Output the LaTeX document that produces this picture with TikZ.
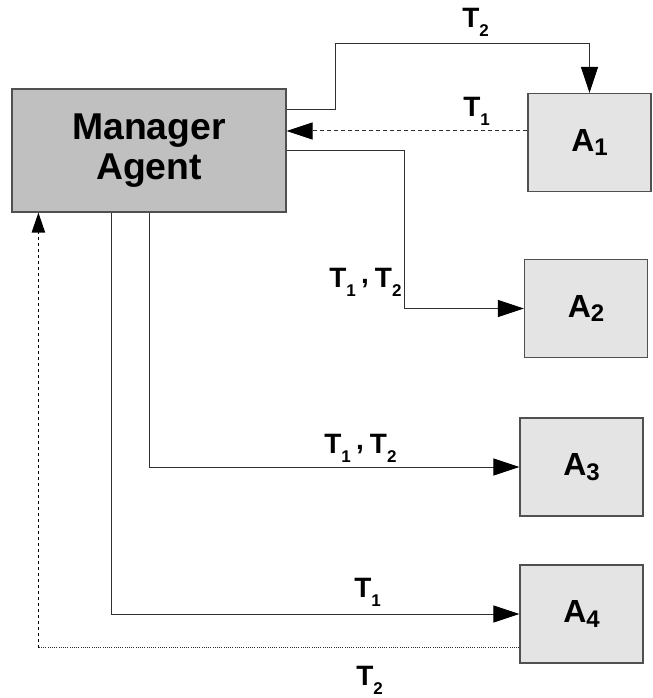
\documentclass[tikz,border=0pt]{standalone}
\usepackage{fontspec}
\setmainfont{Liberation Sans}
\usetikzlibrary{arrows.meta,calc}
\definecolor{mgrfill}{HTML}{C0C0C0}
\definecolor{agfill}{HTML}{E4E4E4}
\definecolor{boxline}{HTML}{505050}
\definecolor{linecol}{HTML}{303030}
\newcommand\tsubx[1]{T\raisebox{-6.75pt}{\fontsize{12.75pt}{13pt}\selectfont #1}}
\newcommand\asubx[1]{A\raisebox{-3.5pt}{\fontsize{18pt}{18pt}\selectfont #1}}
\newcommand\tpair{\tsubx{1}\kern4pt\raisebox{2.5pt}{,}\kern4.5pt\tsubx{2}}
\begin{document}
\begin{tikzpicture}[x=0.75pt,y=-0.75pt,
  mgr/.style={draw=boxline, fill=mgrfill, minimum width=205.5pt, minimum height=92.25pt,
    inner sep=0pt, line width=0.9pt, align=center,
    font=\fontsize{28pt}{30pt}\selectfont\bfseries},
  agent/.style={draw=boxline, fill=agfill, minimum width=92.25pt, minimum height=73.5pt,
    inner sep=0pt, line width=0.9pt, font=\fontsize{24pt}{24pt}\selectfont\bfseries},
  conn/.style={draw=linecol, line width=0.75pt},
  arr/.style={conn, -{Triangle[length=19.5pt,width=12.75pt,color=black]}},
  sarr/.style={conn, -{Triangle[length=15pt,width=10pt,color=black]}},
  dash1/.style={dash pattern=on 3pt off 2.25pt},
  dash2/.style={dash pattern=on 2.25pt off 2.25pt, line width=1pt, draw=black},
  dot1/.style={dash pattern=on 0.75pt off 0.9pt},
  lbl/.style={anchor=base west, inner sep=0pt, font=\fontsize{21pt}{22pt}\selectfont\bfseries}]
\useasboundingbox[fill=white] (0,0) rectangle (652,698);

\node[mgr] (M) at (149,150.5) {Manager\\Agent};
\node[agent] (A1) at (589.5,142.5) {\asubx{1}};
\node[agent] (A2) at (586,308.5) {\asubx{2}};
\node[agent] (A3) at (581.5,467) {\asubx{3}};
\node[agent] (A4) at (581.5,614) {\asubx{4}};

% T2 to A1
\draw[arr] ($(M.north east)+(0,21)$) -- ++(49,0) |- ($(A1.north)+(0,-49)$) -- (A1.north);
% T1 from A1 (dashed)
\coordinate (t1s) at ($(A1.west)+(0,-11.5)$);
\draw[arr,dash1] (t1s) -- (t1s -| M.east);
% T1,T2 to A2
\draw[arr] ($(M.north east)+(0,62)$) -- ++(118,0) |- (A2.west);
% T1,T2 to A3
\draw[arr] ($(M.south west)+(138,0)$) |- (A3.west);
% T1 to A4
\draw[arr] ($(M.south west)+(100,0)$) |- (A4.west);
% T2 from A4 (dotted)
\coordinate (t2s) at ($(A4.south west)+(0,-16)$);
\coordinate (t2m) at ($(M.south west)+(27,0)$);
\coordinate (t2c) at (t2s -| t2m);
\draw[conn,dot1] (t2s) -- (t2c);
\draw[sarr,dash2] (t2c) -- (t2m);

% labels
\node[lbl] (l1) at (462,28) {\tsubx{2}};
\node[lbl] (l2) at (463,117) {\tsubx{1}};
\node[lbl] (l3) at (329,287) {\tpair};
\node[lbl] (l4) at (324,453) {\tpair};
\node[lbl] (l5) at (354,597) {\tsubx{1}};
\node[lbl] (l6) at (356,685) {\tsubx{2}};
\end{tikzpicture}
\end{document}
